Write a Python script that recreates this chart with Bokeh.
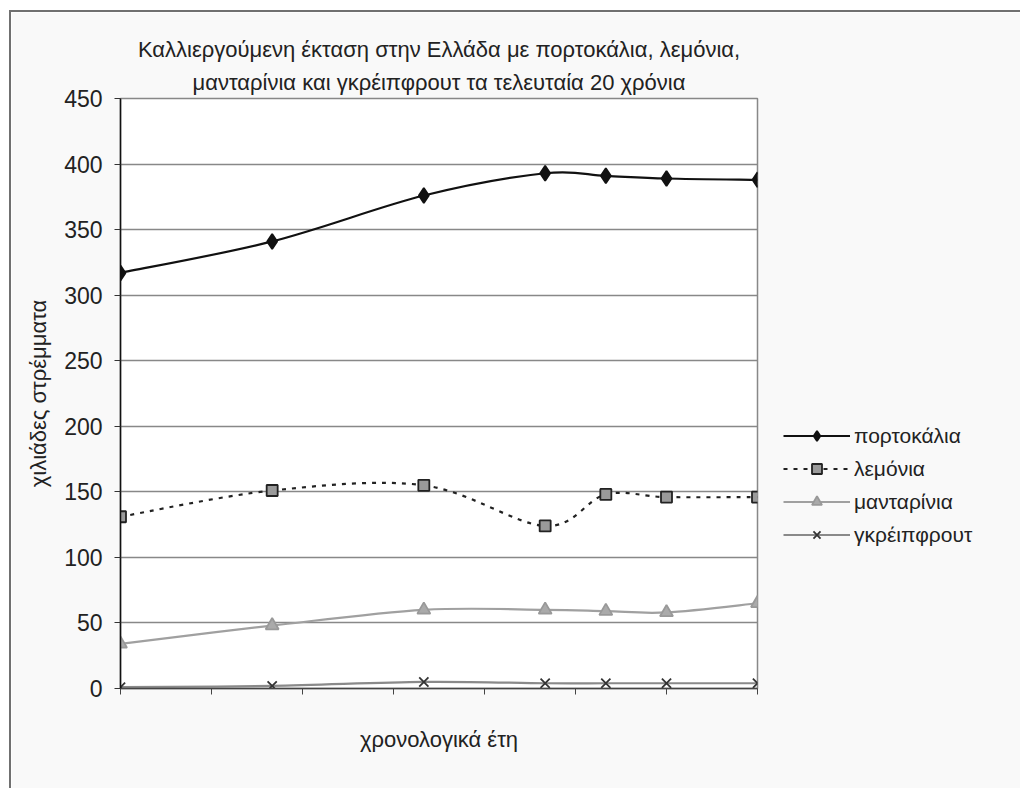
import numpy as np
from bokeh.plotting import figure
from bokeh.models import Range1d, FixedTicker, Legend, LegendItem, Title
from bokeh.embed import file_html
from bokeh.resources import INLINE

# ---- data ----
years = [1980, 1985, 1990, 1994, 1996, 1998, 2001]
portokalia = [317, 341, 376, 393, 391, 389, 388]
lemonia = [131, 151, 155, 124, 148, 146, 146]
mantarinia = [34, 48, 60, 60, 59, 58, 65]
gkreipfrout = [1, 2, 5, 4, 4, 4, 4]
series_names = ["πορτοκάλια", "λεμόνια", "μανταρίνια", "γκρέιπφρουτ"]
y_ticks = list(range(0, 451, 50))
x_ticks = list(range(1980, 2002, 3))
title_lines = ["Καλλιεργούμενη έκταση στην Ελλάδα με πορτοκάλια, λεμόνια,",
               "μανταρίνια και γκρέιπφρουτ τα τελευταία 20 χρόνια"]
x_label = "χρονολογικά έτη"
y_label = "χιλιάδες στρέμματα"

FONT = "Liberation Sans"


def smooth(xs, ys):
    """Bezier control points of a smoothed line through the data points."""
    x = np.asarray(xs, float)
    y = np.asarray(ys, float)
    n = len(x)
    xp = np.concatenate([[x[0]], x, [x[-1]]])
    yp = np.concatenate([[y[0]], y, [y[-1]]])
    cx0 = xp[1:n] + (xp[2:n + 1] - xp[0:n - 1]) / 6
    cy0 = yp[1:n] + (yp[2:n + 1] - yp[0:n - 1]) / 6
    cx1 = xp[2:n + 1] - (xp[3:n + 2] - xp[1:n]) / 6
    cy1 = yp[2:n + 1] - (yp[3:n + 2] - yp[1:n]) / 6
    return dict(x0=x[:-1], y0=y[:-1], x1=x[1:], y1=y[1:],
                cx0=cx0, cy0=cy0, cx1=cx1, cy1=cy1)


p = figure(frame_width=637, frame_height=590, output_backend="svg",
           toolbar_location=None,
           x_range=Range1d(1980, 2001), y_range=Range1d(0, 450),
           min_border_left=109, min_border_right=240,
           min_border_top=86, min_border_bottom=100)

p.styles = {"margin-left": "9px", "margin-top": "10px",
            "border-left": "2px solid #707070", "border-top": "2px solid #707070"}
p.background_fill_color = "#ffffff"
p.border_fill_color = "#f9f9f9"
p.outline_line_color = "#888888"
p.outline_line_width = 1.5

for i, t in enumerate(reversed(title_lines)):
    p.add_layout(Title(text=t, align="center", text_font=FONT,
                       text_font_size="22px", text_font_style="normal",
                       text_color="#222222", standoff=8 if i == 0 else 4),
                 "above")

p.xgrid.visible = False
p.ygrid.ticker = FixedTicker(ticks=y_ticks)
p.ygrid.grid_line_color = "#888888"
p.ygrid.grid_line_width = 1.5

p.yaxis.ticker = FixedTicker(ticks=y_ticks)
p.yaxis.axis_line_color = "#111111"
p.yaxis.axis_line_width = 1.5
p.yaxis.major_tick_out = 6
p.yaxis.major_tick_in = 0
p.yaxis.major_tick_line_color = "#333333"
p.yaxis.minor_tick_line_color = None
p.yaxis.major_label_text_font = FONT
p.yaxis.major_label_text_font_size = "23px"
p.yaxis.major_label_text_color = "#222222"
p.yaxis.major_label_standoff = 12
p.yaxis.axis_label = y_label
p.yaxis.axis_label_text_font = FONT
p.yaxis.axis_label_text_font_size = "22px"
p.yaxis.axis_label_text_font_style = "normal"
p.yaxis.axis_label_text_color = "#222222"
p.yaxis.axis_label_standoff = 10

p.xaxis.ticker = FixedTicker(ticks=x_ticks)
p.xaxis.axis_line_color = "#444444"
p.xaxis.axis_line_width = 1.5
p.xaxis.major_tick_out = 6
p.xaxis.major_tick_in = 0
p.xaxis.major_tick_line_color = "#444444"
p.xaxis.minor_tick_line_color = None
p.xaxis.major_label_overrides = {t: "" for t in x_ticks}
p.xaxis.axis_label = x_label
p.xaxis.axis_label_text_font = FONT
p.xaxis.axis_label_text_font_size = "22px"
p.xaxis.axis_label_text_font_style = "normal"
p.xaxis.axis_label_text_color = "#222222"
p.xaxis.axis_label_standoff = 32

styles = [
    dict(vals=portokalia, color="#111111", width=2.2, dash="solid",
         marker="diamond", size=15, fill="#111111", mline="#111111"),
    dict(vals=lemonia, color="#222222", width=2.2, dash="4 6",
         marker="square", size=11, fill="#9a9a9a", mline="#222222"),
    dict(vals=mantarinia, color="#a0a0a0", width=2.2, dash="solid",
         marker="triangle", size=13, fill="#aaaaaa", mline="#999999"),
    dict(vals=gkreipfrout, color="#8a8a8a", width=2.2, dash="solid",
         marker="x", size=13, fill="#333333", mline="#333333"),
]

items = []
for name, s in zip(series_names, styles):
    seg = smooth(years, s["vals"])
    r_line = p.bezier(x0="x0", y0="y0", x1="x1", y1="y1", cx0="cx0", cy0="cy0",
                      cx1="cx1", cy1="cy1", source=seg, line_color=s["color"],
                      line_width=s["width"], line_dash=s["dash"])
    r_pts = p.scatter(x=years, y=s["vals"], marker=s["marker"], size=s["size"],
                      fill_color=s["fill"], line_color=s["mline"], line_width=1.8)
    items.append(LegendItem(label=name, renderers=[r_line, r_pts]))

legend = Legend(items=items, location=(26, 141), orientation="vertical",
                glyph_width=67, glyph_height=25, spacing=8, label_standoff=4,
                label_text_font=FONT, label_text_font_size="21px",
                label_text_color="#222222", label_height=25,
                padding=0, margin=0, border_line_color=None,
                background_fill_alpha=0)
p.add_layout(legend, "right")

open("out.html", "w").write(file_html(p, INLINE))
